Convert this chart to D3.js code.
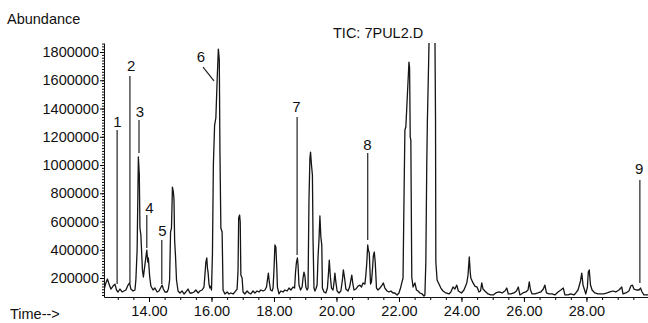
<!DOCTYPE html>
<html>
<head>
    <meta charset="UTF-8" />
    <title>TIC: 7PUL2.D</title>
    <script src="https://cdn.jsdelivr.net/npm/d3@7/dist/d3.min.js"></script>
    <style type="text/css">
        body {
            margin: 0;
            background-color: #fff;
        }
        svg text {
            font-family: "Liberation Sans", Arial, sans-serif;
            fill: #111;
        }
    </style>
</head>
<body>
<div id="chart"></div>
<script>
    // retention time (min) and abundance
    var times = [
        12.56, 12.62, 12.67, 12.72, 12.78, 12.85, 12.91, 12.96, 13.01, 13.07,
        13.14, 13.20, 13.26, 13.33, 13.38, 13.42, 13.49, 13.55, 13.58, 13.62,
        13.66, 13.69, 13.71, 13.74, 13.79, 13.82, 13.88, 13.93, 13.96, 13.98,
        14.02, 14.06, 14.13, 14.19, 14.26, 14.32, 14.37, 14.42, 14.46, 14.51,
        14.58, 14.62, 14.66, 14.69, 14.72, 14.75, 14.78, 14.80, 14.82, 14.85,
        14.88, 14.93, 14.99, 15.06, 15.12, 15.18, 15.25, 15.31, 15.38, 15.44,
        15.50, 15.57, 15.63, 15.70, 15.76, 15.79, 15.82, 15.85, 15.87, 15.89,
        15.92, 15.95, 15.98, 16.00, 16.03, 16.06, 16.10, 16.14, 16.18, 16.22,
        16.25, 16.27, 16.30, 16.34, 16.37, 16.43, 16.50, 16.56, 16.62, 16.69,
        16.75, 16.82, 16.85, 16.87, 16.90, 16.92, 16.94, 16.98, 17.01, 17.07,
        17.14, 17.20, 17.26, 17.33, 17.39, 17.46, 17.52, 17.58, 17.65, 17.71,
        17.76, 17.79, 17.82, 17.85, 17.89, 17.94, 17.97, 18.00, 18.03, 18.06,
        18.09, 18.11, 18.16, 18.22, 18.29, 18.35, 18.42, 18.48, 18.54, 18.61,
        18.66, 18.69, 18.72, 18.75, 18.77, 18.80, 18.85, 18.90, 18.93, 18.96,
        18.99, 19.02, 19.06, 19.09, 19.12, 19.15, 19.17, 19.20, 19.23, 19.25,
        19.28, 19.31, 19.34, 19.38, 19.41, 19.44, 19.47, 19.50, 19.53, 19.55,
        19.60, 19.66, 19.71, 19.74, 19.77, 19.80, 19.84, 19.89, 19.92, 19.95,
        19.98, 20.02, 20.08, 20.14, 20.19, 20.22, 20.26, 20.30, 20.37, 20.42,
        20.45, 20.49, 20.52, 20.56, 20.62, 20.69, 20.75, 20.80, 20.85, 20.91,
        20.94, 20.97, 21.00, 21.02, 21.05, 21.09, 21.12, 21.15, 21.18, 21.21,
        21.24, 21.28, 21.33, 21.39, 21.46, 21.50, 21.55, 21.62, 21.68, 21.74,
        21.81, 21.87, 21.94, 22.00, 22.05, 22.09, 22.13, 22.17, 22.19, 22.22,
        22.28, 22.32, 22.34, 22.36, 22.38, 22.41, 22.45, 22.51, 22.56, 22.61,
        22.67, 22.74, 22.80, 22.83, 22.86, 22.89, 22.91, 22.94, 22.97, 23.06,
        23.15, 23.17, 23.18, 23.22, 23.28, 23.34, 23.41, 23.50, 23.60, 23.66,
        23.73, 23.79, 23.85, 23.90, 24.00, 24.08, 24.17, 24.21, 24.25, 24.28,
        24.30, 24.37, 24.43, 24.50, 24.56, 24.61, 24.65, 24.69, 24.75, 24.85,
        24.94, 25.02, 25.10, 25.20, 25.30, 25.39, 25.45, 25.50, 25.58, 25.68,
        25.76, 25.82, 25.87, 25.97, 26.06, 26.13, 26.17, 26.21, 26.26, 26.35,
        26.45, 26.54, 26.62, 26.67, 26.72, 26.80, 26.90, 26.99, 27.09, 27.18,
        27.26, 27.31, 27.41, 27.50, 27.60, 27.66, 27.73, 27.81, 27.85, 27.89,
        27.94, 27.98, 28.03, 28.06, 28.09, 28.13, 28.18, 28.27, 28.37, 28.46,
        28.56, 28.66, 28.75, 28.85, 28.94, 29.04, 29.13, 29.17, 29.26, 29.36,
        29.42, 29.47, 29.52, 29.60, 29.68, 29.73, 29.78, 29.84, 29.90, 29.97
    ];
    var abundance = [
        115000, 165000, 193000, 157000, 122000, 143000, 157000, 115000, 101000, 122000,
        101000, 108000, 115000, 150000, 165000, 122000, 108000, 115000, 186000, 398000,
        1057000, 929000, 554000, 504000, 257000, 207000, 313000, 398000, 313000, 342000,
        214000, 143000, 115000, 129000, 101000, 108000, 129000, 150000, 122000, 101000,
        101000, 122000, 186000, 526000, 554000, 844000, 809000, 752000, 469000, 349000,
        186000, 108000, 94000, 108000, 87000, 101000, 122000, 94000, 94000, 101000,
        115000, 94000, 108000, 115000, 136000, 221000, 313000, 342000, 271000, 242000,
        157000, 129000, 143000, 115000, 363000, 1000000, 1283000, 1333000, 1595000, 1821000,
        1743000, 1106000, 554000, 526000, 115000, 87000, 101000, 87000, 94000, 87000,
        101000, 122000, 257000, 625000, 646000, 597000, 221000, 200000, 101000, 87000,
        108000, 94000, 87000, 108000, 94000, 108000, 101000, 115000, 108000, 115000,
        136000, 186000, 235000, 172000, 115000, 108000, 129000, 257000, 434000, 420000,
        271000, 136000, 87000, 108000, 101000, 115000, 108000, 129000, 115000, 136000,
        129000, 242000, 313000, 342000, 292000, 150000, 115000, 136000, 200000, 242000,
        214000, 136000, 115000, 129000, 752000, 1050000, 1092000, 1000000, 929000, 469000,
        129000, 108000, 122000, 150000, 349000, 469000, 639000, 490000, 434000, 129000,
        101000, 94000, 129000, 221000, 327000, 221000, 129000, 115000, 165000, 235000,
        172000, 108000, 94000, 108000, 186000, 257000, 200000, 122000, 108000, 136000,
        172000, 221000, 165000, 115000, 122000, 143000, 150000, 136000, 165000, 157000,
        221000, 306000, 434000, 398000, 377000, 157000, 172000, 257000, 356000, 384000,
        313000, 129000, 115000, 129000, 150000, 165000, 129000, 108000, 101000, 108000,
        94000, 94000, 80000, 94000, 129000, 165000, 200000, 915000, 1248000, 1269000,
        1545000, 1729000, 1687000, 1198000, 1177000, 207000, 136000, 165000, 115000, 108000,
        94000, 87000, 73000, 80000, 313000, 1014000, 1319000, 1623000, 1956000, 1991000,
        1956000, 1319000, 313000, 186000, 157000, 129000, 108000, 94000, 87000, 101000,
        136000, 122000, 150000, 108000, 94000, 115000, 165000, 221000, 349000, 242000,
        200000, 165000, 143000, 136000, 101000, 108000, 165000, 122000, 108000, 87000,
        80000, 80000, 94000, 101000, 94000, 108000, 129000, 87000, 87000, 94000,
        108000, 136000, 80000, 94000, 101000, 115000, 172000, 115000, 87000, 87000,
        94000, 101000, 122000, 150000, 94000, 87000, 87000, 80000, 101000, 115000,
        129000, 80000, 80000, 87000, 80000, 94000, 115000, 179000, 235000, 150000,
        115000, 87000, 136000, 242000, 257000, 150000, 115000, 94000, 87000, 87000,
        87000, 94000, 101000, 108000, 101000, 115000, 136000, 87000, 94000, 108000,
        143000, 150000, 122000, 115000, 115000, 129000, 101000, 80000, 80000, 80000
    ];

    var yTicks = [200000, 400000, 600000, 800000, 1000000, 1200000, 1400000, 1600000, 1800000];
    var xTicks = [14, 16, 18, 20, 22, 24, 26, 28];

    // peak numbers: label point and pointer line (time, abundance)
    var peakLabels = ["1", "2", "3", "4", "5", "6", "7", "8", "9"];
    var labelTime = [12.99, 13.43, 13.71, 14.01, 14.43, 15.66, 18.72, 20.99, 29.69];
    var labelAbund = [1269000, 1666000, 1340000, 660000, 497000, 1729000, 1376000, 1106000, 936000];
    var lineT1 = [12.98, 13.39, 13.68, 13.93, 14.41, 15.73, 18.74, 21.00, 29.71];
    var lineV1 = [1248000, 1630000, 1319000, 646000, 469000, 1694000, 1340000, 1085000, 894000];
    var lineT2 = [12.98, 13.39, 13.68, 13.93, 14.41, 16.08, 18.74, 21.00, 29.71];
    var lineV2 = [157000, 165000, 1085000, 412000, 157000, 1595000, 363000, 469000, 165000];

    var w = 648, h = 323;
    var m = {left: 104, right: 648, top: 43, bottom: 297};

    var x = d3.scaleLinear().domain([12.56, 29.97]).range([m.left, m.right]);
    var y = d3.scaleLinear().domain([65500, 1864000]).range([m.bottom, m.top]);

    var svg = d3.select("#chart")
        .append("svg")
        .attr("width", w)
        .attr("height", h);

    svg.append("defs").append("clipPath")
        .attr("id", "plot")
        .append("rect")
        .attr("x", m.left)
        .attr("y", m.top)
        .attr("width", m.right - m.left)
        .attr("height", m.bottom - m.top);

    var fs = "14.5px";

    // y axis: minor ticks (dotted look) + labelled major ticks
    svg.append("g")
        .attr("transform", "translate(" + m.left + ",0)")
        .call(d3.axisLeft(y).tickValues(d3.range(80000, 1864000, 20000)).tickSize(2).tickFormat(""))
        .call(function (g) { g.select(".domain").remove(); });

    svg.append("g")
        .attr("transform", "translate(" + m.left + ",0)")
        .call(d3.axisLeft(y).tickValues(yTicks).tickSize(4).tickSizeOuter(0).tickPadding(1).tickFormat(d3.format("d")))
        .call(function (g) {
            g.selectAll("text").attr("font-size", fs).attr("font-family", null);
            g.select(".domain").attr("stroke", "#111");
        });

    // x axis
    svg.append("g")
        .attr("transform", "translate(0," + m.bottom + ")")
        .call(d3.axisBottom(x).tickValues(d3.range(13, 30, 0.5)).tickSize(3).tickFormat(""))
        .call(function (g) { g.select(".domain").remove(); });

    svg.append("g")
        .attr("transform", "translate(0," + m.bottom + ")")
        .call(d3.axisBottom(x).tickValues(xTicks).tickSize(5).tickSizeOuter(0).tickPadding(4).tickFormat(d3.format(".2f")))
        .call(function (g) {
            g.selectAll("text").attr("font-size", fs).attr("font-family", null);
            g.select(".domain").attr("stroke", "#111");
        });

    // trace
    var line = d3.line()
        .x(function (d, i) { return x(times[i]); })
        .y(function (d) { return y(d); });

    svg.append("path")
        .datum(abundance)
        .attr("clip-path", "url(#plot)")
        .attr("d", line)
        .attr("fill", "none")
        .attr("stroke", "#151515")
        .attr("stroke-width", 1.3)
        .attr("stroke-linejoin", "round");

    // peak annotations
    svg.append("g").selectAll("line")
        .data(peakLabels)
        .join("line")
        .attr("x1", function (d, i) { return x(lineT1[i]); })
        .attr("y1", function (d, i) { return y(lineV1[i]); })
        .attr("x2", function (d, i) { return x(lineT2[i]); })
        .attr("y2", function (d, i) { return y(lineV2[i]); })
        .attr("stroke", "#222")
        .attr("stroke-width", 1.2);

    svg.append("g").selectAll("text")
        .data(peakLabels)
        .join("text")
        .attr("x", function (d, i) { return x(labelTime[i]); })
        .attr("y", function (d, i) { return y(labelAbund[i]); })
        .attr("text-anchor", "middle")
        .attr("font-size", "15px")
        .text(function (d) { return d; });

    svg.append("text")
        .attr("x", 7)
        .attr("y", 23.5)
        .attr("font-size", fs)
        .text("Abundance");

    svg.append("text")
        .attr("x", 10)
        .attr("y", 319)
        .attr("font-size", fs)
        .text("Time-->");

    svg.append("text")
        .attr("x", 333)
        .attr("y", 37.5)
        .attr("font-size", fs)
        .text("TIC: 7PUL2.D");
</script>
</body>
</html>
